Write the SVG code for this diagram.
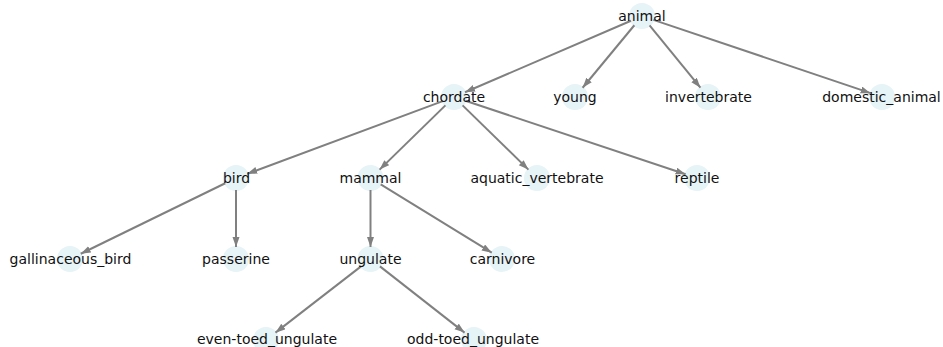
<svg xmlns="http://www.w3.org/2000/svg" width="943" height="347" viewBox="0 0 943 347">
<style>
.n circle{fill:#e6f3f7;}
.n text{font-family:"DejaVu Sans",sans-serif;font-size:14px;fill:#111;text-anchor:middle;dominant-baseline:central;}
#edges line{stroke:#808080;stroke-width:2;marker-end:url(#ah);}
</style>
<defs>
<marker id="ah" markerUnits="userSpaceOnUse" markerWidth="10" markerHeight="8" refX="10" refY="3.5" orient="auto">
<path d="M0,0 L10,3.5 L0,7 z" fill="#808080"/>
</marker>
</defs>
<rect width="943" height="347" fill="#fff"/>
<g id="nodes-bg">
<g class="n" id="animal"><circle cx="642" cy="16" r="13"/></g>
<g class="n" id="chordate"><circle cx="454" cy="97" r="13"/></g>
<g class="n" id="young"><circle cx="575" cy="97" r="13"/></g>
<g class="n" id="invertebrate"><circle cx="708" cy="97" r="13"/></g>
<g class="n" id="domestic_animal"><circle cx="882" cy="97" r="13"/></g>
<g class="n" id="bird"><circle cx="236" cy="178" r="13"/></g>
<g class="n" id="mammal"><circle cx="370.5" cy="178" r="13"/></g>
<g class="n" id="aquatic_vertebrate"><circle cx="537" cy="178" r="13"/></g>
<g class="n" id="reptile"><circle cx="697" cy="178" r="13"/></g>
<g class="n" id="gallinaceous_bird"><circle cx="70" cy="259" r="13"/></g>
<g class="n" id="passerine"><circle cx="236" cy="259" r="13"/></g>
<g class="n" id="ungulate"><circle cx="370.5" cy="259" r="13"/></g>
<g class="n" id="carnivore"><circle cx="502" cy="259" r="13"/></g>
<g class="n" id="even-toed_ungulate"><circle cx="266" cy="340" r="13"/></g>
<g class="n" id="odd-toed_ungulate"><circle cx="474" cy="340" r="13"/></g>
</g>
<g id="edges">
<line x1="630.98" y1="20.75" x2="465.02" y2="92.25"/>
<line x1="634.35" y1="25.25" x2="582.65" y2="87.75"/>
<line x1="649.58" y1="25.30" x2="700.42" y2="87.70"/>
<line x1="653.37" y1="19.84" x2="870.63" y2="93.16"/>
<line x1="442.75" y1="101.18" x2="247.25" y2="173.82"/>
<line x1="445.41" y1="105.38" x2="379.59" y2="169.62"/>
<line x1="462.59" y1="105.38" x2="528.41" y2="169.62"/>
<line x1="465.38" y1="100.79" x2="685.62" y2="174.21"/>
<line x1="225.22" y1="183.26" x2="80.78" y2="253.74"/>
<line x1="236" y1="190" x2="236" y2="247"/>
<line x1="370.5" y1="190" x2="370.5" y2="247"/>
<line x1="380.72" y1="184.29" x2="491.78" y2="252.71"/>
<line x1="361.02" y1="266.35" x2="275.48" y2="332.65"/>
<line x1="379.95" y1="266.40" x2="464.55" y2="332.60"/>
</g>
<g id="labels">
<g class="n" id="animal-label"><text x="642" y="16">animal</text></g>
<g class="n" id="chordate-label"><text x="454" y="97">chordate</text></g>
<g class="n" id="young-label"><text x="575" y="97">young</text></g>
<g class="n" id="invertebrate-label"><text x="708.5" y="97">invertebrate</text></g>
<g class="n" id="domestic_animal-label"><text x="881.5" y="97">domestic_animal</text></g>
<g class="n" id="bird-label"><text x="236.5" y="178">bird</text></g>
<g class="n" id="mammal-label"><text x="370.5" y="178">mammal</text></g>
<g class="n" id="aquatic_vertebrate-label"><text x="537" y="178">aquatic_vertebrate</text></g>
<g class="n" id="reptile-label"><text x="697" y="178">reptile</text></g>
<g class="n" id="gallinaceous_bird-label"><text x="70.5" y="259">gallinaceous_bird</text></g>
<g class="n" id="passerine-label"><text x="236" y="259">passerine</text></g>
<g class="n" id="ungulate-label"><text x="370.5" y="259">ungulate</text></g>
<g class="n" id="carnivore-label"><text x="502.5" y="259">carnivore</text></g>
<g class="n" id="even-toed_ungulate-label"><text x="267" y="339">even-toed_ungulate</text></g>
<g class="n" id="odd-toed_ungulate-label"><text x="473" y="339">odd-toed_ungulate</text></g>
</g>
</svg>
